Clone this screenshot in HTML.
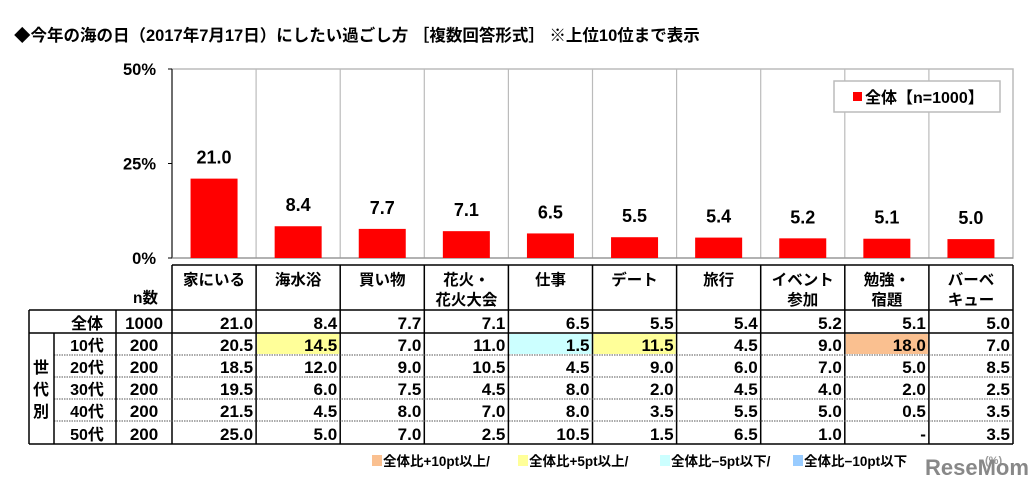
<!DOCTYPE html>
<html><head><meta charset="utf-8"><style>
body{margin:0;background:#fff;width:1035px;height:485px;overflow:hidden;font-family:"Liberation Sans","Noto Sans CJK JP",sans-serif}
svg text{font-family:"Liberation Sans","Noto Sans CJK JP",sans-serif;font-weight:bold}
</style></head><body>
<svg id="c" width="1035" height="485"></svg>
<script>
const categories=["家にいる","海水浴","買い物","花火・|花火大会","仕事","デート","旅行","イベント|参加","勉強・|宿題","バーベ|キュー"];
const totalValues=[21.0,8.4,7.7,7.1,6.5,5.5,5.4,5.2,5.1,5.0];
const yTicks=[0,25,50];
const groups=["10代","20代","30代","40代","50代"];
const groupN=[200,200,200,200,200];
const v10=[20.5,14.5,7.0,11.0,1.5,11.5,4.5,9.0,18.0,7.0];
const v20=[18.5,12.0,9.0,10.5,4.5,9.0,6.0,7.0,5.0,8.5];
const v30=[19.5,6.0,7.5,4.5,8.0,2.0,4.5,4.0,2.0,2.5];
const v40=[21.5,4.5,8.0,7.0,8.0,3.5,5.5,5.0,0.5,3.5];
const v50=[25.0,5.0,7.0,2.5,10.5,1.5,6.5,1.0,null,3.5];
const groupVals=[v10,v20,v30,v40,v50];

const svg=document.getElementById('c');const NS='http://www.w3.org/2000/svg';
function el(t,a,txt){const e=document.createElementNS(NS,t);for(const k in a)e.setAttribute(k,a[k]);if(txt!=null)e.textContent=txt;svg.appendChild(e);return e;}
const X0=172,CW=84.1,Y0=258,YT=69;
const xs=i=>X0+i*CW;
const ys=v=>Y0-(v/50)*(Y0-YT);
let t=el('text',{x:14,y:41,'font-size':16.5},'◆今年の海の日（2017年7月17日）にしたい過ごし方 ［複数回答形式］ ※上位10位まで表示');

let f=el('rect',{x:X0,y:YT,width:CW*10,height:Y0-YT,fill:'none',stroke:'#bbb','stroke-width':1.5});

for(let i=1;i<10;i++){let g=el('line',{x1:xs(i),x2:xs(i),y1:YT,y2:Y0,stroke:'#bbb','stroke-width':1.2});}
el('line',{x1:X0,x2:X0,y1:YT,y2:Y0,stroke:'#000','stroke-width':1});
el('line',{x1:X0,x2:X0+CW*10,y1:Y0,y2:Y0,stroke:'#888','stroke-width':1});
yTicks.forEach(v=>{el('line',{x1:X0-4,x2:X0,y1:ys(v),y2:ys(v),stroke:'#000'});
let l=el('text',{x:X0-16,y:ys(v)+6,'font-size':16.5,'text-anchor':'end','font-weight':'normal'},v+'%');});
totalValues.forEach((v,i)=>{const cx=xs(i)+CW/2;
let b=el('rect',{x:cx-23.5,y:ys(v),width:47,height:Y0-ys(v),fill:'#f00'});
let l=el('text',{x:cx,y:ys(v)-15,'font-size':18,'text-anchor':'middle','font-weight':'normal'},v.toFixed(1));});
let lg=el('rect',{x:834,y:81,width:166,height:31,fill:'#fff',stroke:'#bbb','stroke-width':1.5});
el('rect',{x:853,y:92,width:9,height:9,fill:'#f00'});
let lt=el('text',{x:865,y:103,'font-size':16},'全体【n=1000】');
const HT=265,rows=[310,333,355,377,399,421,444],TR=X0+CW*10;
el('line',{x1:X0,x2:TR,y1:HT,y2:HT,stroke:'#000','stroke-width':1.5});
for(let i=0;i<=10;i++)el('line',{x1:xs(i),x2:xs(i),y1:HT,y2:rows[6],stroke:'#000','stroke-width':1.5});
categories.forEach((c,i)=>{const parts=c.split('|');parts.forEach((p,j)=>{
let h=el('text',{x:xs(i)+CW/2,y:HT+20+j*20,'font-size':15.5,'text-anchor':'middle'},p);});});
el('text',{x:158,y:303,'font-size':15.5,'text-anchor':'end'},'n数');
const hl=[[1,'#ffff99'],[4,'#ccffff'],[5,'#ffff99'],[8,'#fac090']];
hl.forEach(([i,c])=>el('rect',{x:xs(i)+1,y:rows[1]+1,width:CW-2,height:rows[2]-rows[1]-2,fill:c}));
el('line',{x1:29,x2:TR,y1:rows[0],y2:rows[0],stroke:'#000','stroke-width':1.5});
el('line',{x1:29,x2:TR,y1:rows[1],y2:rows[1],stroke:'#000','stroke-width':1.5});
for(let r=2;r<6;r++)el('line',{x1:54,x2:TR,y1:rows[r],y2:rows[r],stroke:'#555','stroke-width':1,'stroke-dasharray':'1.5,1'});
el('line',{x1:29,x2:TR,y1:rows[6],y2:rows[6],stroke:'#000','stroke-width':1.5});
el('line',{x1:29,x2:29,y1:rows[0],y2:rows[6],stroke:'#000','stroke-width':1.5});
el('line',{x1:54,x2:54,y1:rows[1],y2:rows[6],stroke:'#000','stroke-width':1.5});
el('line',{x1:116,x2:116,y1:rows[0],y2:rows[6],stroke:'#000','stroke-width':1.5});
function rowText(y,label,n,vals,name){
let a=el('text',{x:87,y:y,'font-size':16,'text-anchor':'middle'},label);
el('text',{x:144,y:y,'font-size':17,'text-anchor':'middle','font-weight':'normal'},n);
vals.forEach((v,i)=>{let c=el('text',{x:xs(i+1)-3,y:y,'font-size':17,'text-anchor':'end','font-weight':'normal'},v==null?'-':v.toFixed(1));});}
rowText(rows[1]-4,'全体',1000,totalValues,'total-row');
groups.forEach((g,k)=>rowText(rows[k+2]-4,g,groupN[k],groupVals[k],'row-'+g));
['世','代','別'].forEach((ch,j)=>el('text',{x:41,y:373+j*22,'font-size':16,'text-anchor':'middle'},ch));
const keys=[['#fac090','全体比+10pt以上/',372],['#ffff99','全体比+5pt以上/',518],['#ccffff','全体比−5pt以下/',660],['#99ccff','全体比−10pt以下',793]];
keys.forEach(([c,s,x])=>{el('rect',{x:x,y:455,width:10,height:11,fill:c});let k=el('text',{x:x+11,y:466,'font-size':13.5},s);});
el('text',{x:985,y:464,'font-size':11,'font-weight':'normal',fill:'#999'},'(%)');
let wm=el('text',{x:925,y:475,'font-size':22,fill:'#888','font-weight':'bold'},'ReseMom');
</script>
</body></html>
